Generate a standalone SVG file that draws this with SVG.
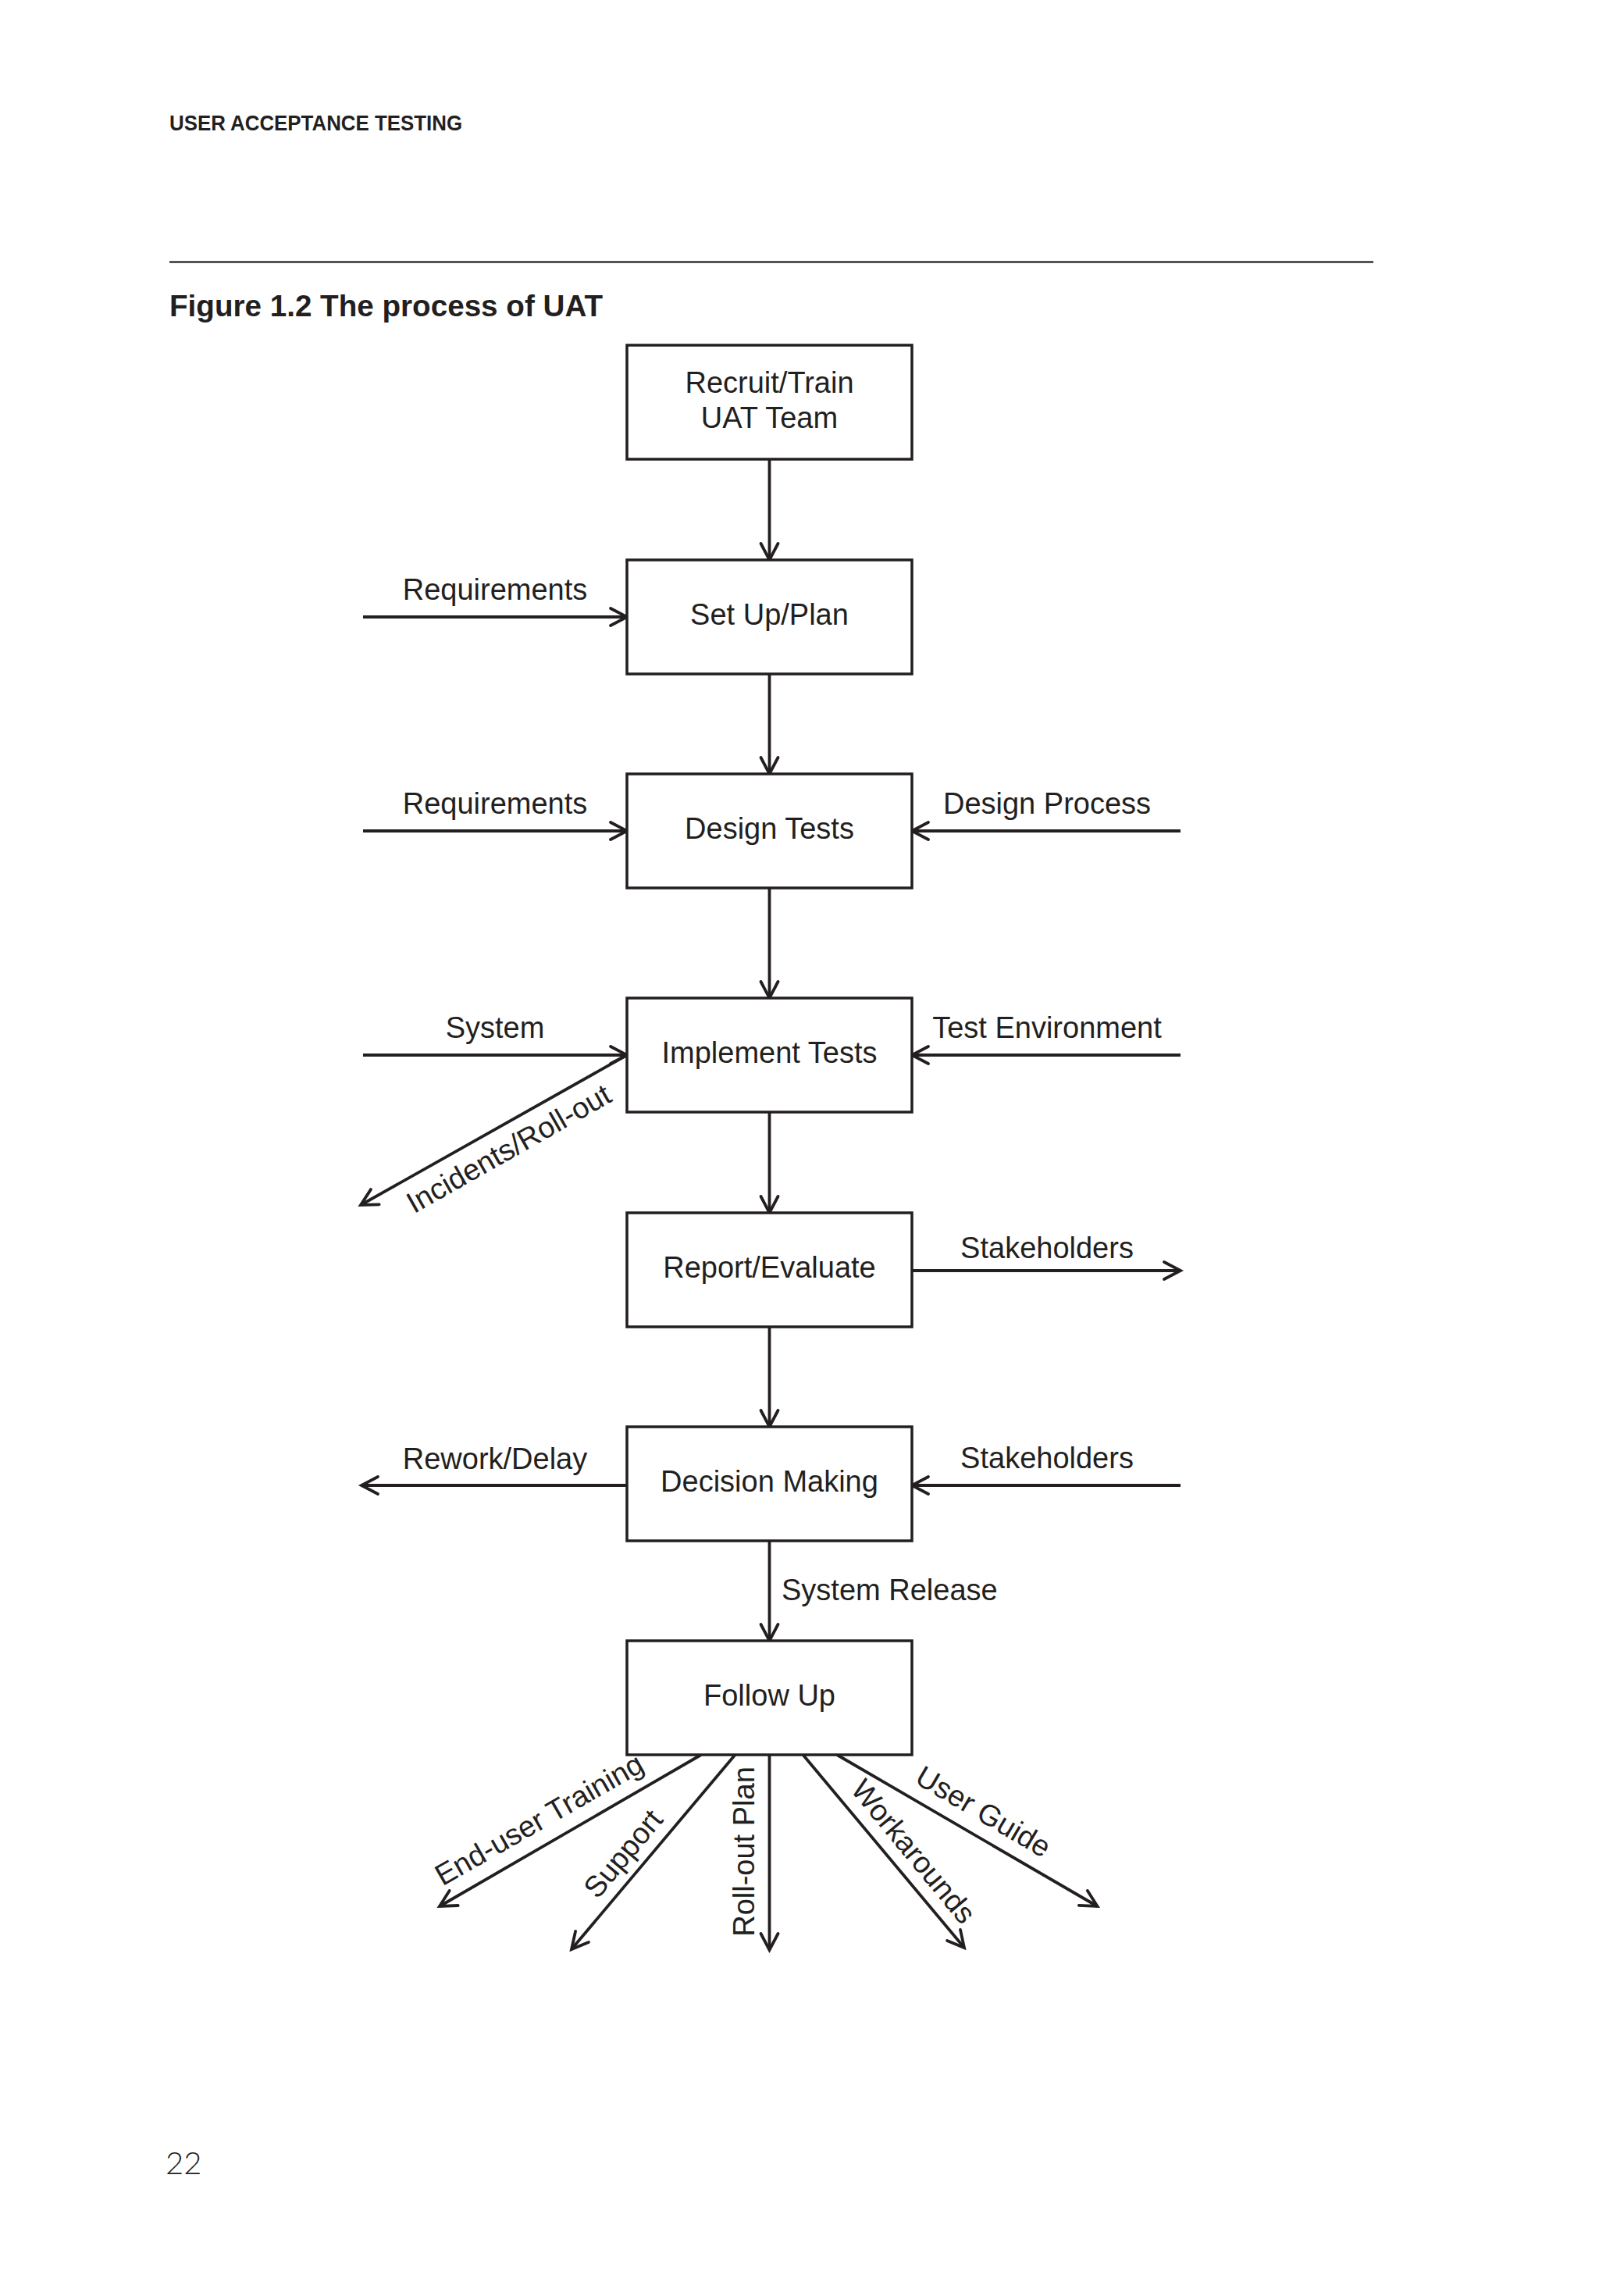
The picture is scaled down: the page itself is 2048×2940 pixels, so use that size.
<svg xmlns="http://www.w3.org/2000/svg" width="2048" height="2940" viewBox="0 0 2048 2940">
<style>
.bg{fill:#ffffff}
.box{fill:#ffffff;stroke:#231f20;stroke-width:3.5}
.lbl{font-family:"Liberation Sans",Arial,sans-serif;font-size:38px;fill:#231f20}
.mid{text-anchor:middle}
.con{fill:none;stroke:#231f20;stroke-width:3.8;marker-end:url(#arr)}
.hdr{font-family:"Liberation Sans",Arial,sans-serif;font-weight:bold;fill:#231f20}
</style>
<defs>
<marker id="arr" markerUnits="userSpaceOnUse" markerWidth="40" markerHeight="40" viewBox="-30 -20 40 40" refX="0" refY="0" orient="auto" overflow="visible">
<path d="M-21,-11 L0,0 L-21,11" fill="none" stroke="#231f20" stroke-width="3.8" stroke-linecap="round" stroke-linejoin="miter"/>
</marker>
</defs>
<rect class="bg" x="0" y="0" width="2048" height="2940"/>

<g id="page">
<text class="hdr" x="217" y="167" font-size="27" textLength="375" lengthAdjust="spacingAndGlyphs">USER ACCEPTANCE TESTING</text>
<line x1="217" y1="335.5" x2="1759" y2="335.5" stroke="#333333" stroke-width="2.6"/>
<text class="hdr" x="217" y="405" font-size="39" textLength="555" lengthAdjust="spacingAndGlyphs">Figure 1.2 The process of UAT</text>
<text x="212" y="2784" font-family="Lato,'Open Sans','Liberation Sans',sans-serif" font-weight="300" font-size="40" fill="#231f20">22</text>
</g>

<g id="connectors">
<line class="con" x1="985.5" y1="588" x2="985.5" y2="717"/>
<line class="con" x1="985.5" y1="863" x2="985.5" y2="991"/>
<line class="con" x1="985.5" y1="1137" x2="985.5" y2="1278"/>
<line class="con" x1="985.5" y1="1424" x2="985.5" y2="1553"/>
<line class="con" x1="985.5" y1="1699" x2="985.5" y2="1827"/>
<line class="con" x1="985.5" y1="1973" x2="985.5" y2="2101"/>

<line class="con" x1="465" y1="790" x2="803" y2="790"/>
<line class="con" x1="465" y1="1064" x2="803" y2="1064"/>
<line class="con" x1="1512" y1="1064" x2="1168" y2="1064"/>
<line class="con" x1="465" y1="1351" x2="803" y2="1351"/>
<line class="con" x1="1512" y1="1351" x2="1168" y2="1351"/>
<line class="con" x1="803" y1="1351" x2="462" y2="1543"/>
<line class="con" x1="1168" y1="1627" x2="1512" y2="1627"/>
<line class="con" x1="803" y1="1902" x2="463" y2="1902"/>
<line class="con" x1="1512" y1="1902" x2="1168" y2="1902"/>

<line class="con" x1="898" y1="2247" x2="563" y2="2441"/>
<line class="con" x1="941.5" y1="2247" x2="732" y2="2496"/>
<line class="con" x1="985.5" y1="2247" x2="985.5" y2="2497"/>
<line class="con" x1="1028.5" y1="2247" x2="1235" y2="2494"/>
<line class="con" x1="1072" y1="2247" x2="1405.5" y2="2441"/>

<text class="lbl mid" x="634" y="768">Requirements</text>
<text class="lbl mid" x="634" y="1042">Requirements</text>
<text class="lbl mid" x="1341" y="1042">Design Process</text>
<text class="lbl mid" x="634" y="1329">System</text>
<text class="lbl mid" x="1341" y="1329">Test Environment</text>
<text class="lbl mid" transform="translate(658,1482) rotate(-29.6)">Incidents/Roll-out</text>
<text class="lbl mid" x="1341" y="1611">Stakeholders</text>
<text class="lbl mid" x="634" y="1881">Rework/Delay</text>
<text class="lbl mid" x="1341" y="1880">Stakeholders</text>
<text class="lbl" x="1001" y="2049">System Release</text>
<text class="lbl mid" transform="translate(697,2341) rotate(-29.8)">End-user Training</text>
<text class="lbl mid" transform="translate(808,2382) rotate(-50)">Support</text>
<text class="lbl mid" transform="translate(966,2371) rotate(-90)">Roll-out Plan</text>
<text class="lbl mid" transform="translate(1160,2379) rotate(50.4)">Workarounds</text>
<text class="lbl mid" transform="translate(1253,2331) rotate(30.4)">User Guide</text>
</g>

<g id="recruit">
<rect class="box" x="803" y="442" width="365" height="146"/>
<text class="lbl mid" x="985.5" y="503">Recruit/Train</text>
<text class="lbl mid" x="985.5" y="548">UAT Team</text>
</g>
<g id="setup">
<rect class="box" x="803" y="717" width="365" height="146"/>
<text class="lbl mid" x="985.5" y="800">Set Up/Plan</text>
</g>
<g id="design">
<rect class="box" x="803" y="991" width="365" height="146"/>
<text class="lbl mid" x="985.5" y="1074">Design Tests</text>
</g>
<g id="implement">
<rect class="box" x="803" y="1278" width="365" height="146"/>
<text class="lbl mid" x="985.5" y="1361">Implement Tests</text>
</g>
<g id="report">
<rect class="box" x="803" y="1553" width="365" height="146"/>
<text class="lbl mid" x="985.5" y="1636">Report/Evaluate</text>
</g>
<g id="decision">
<rect class="box" x="803" y="1827" width="365" height="146"/>
<text class="lbl mid" x="985.5" y="1910">Decision Making</text>
</g>
<g id="followup">
<rect class="box" x="803" y="2101" width="365" height="146"/>
<text class="lbl mid" x="985.5" y="2184">Follow Up</text>
</g>
</svg>
